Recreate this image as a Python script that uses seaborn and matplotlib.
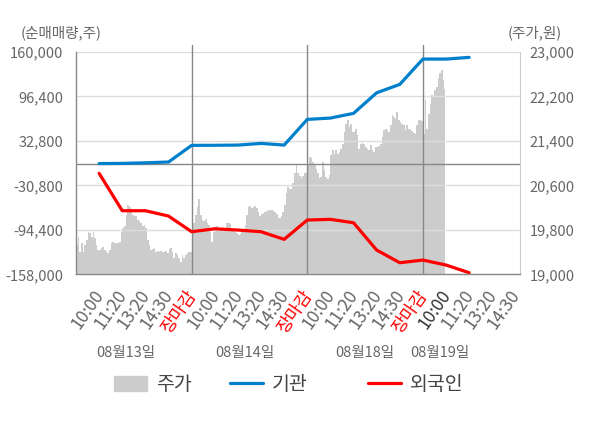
import numpy as np
import pandas as pd
import matplotlib
matplotlib.use("Agg")
import matplotlib.pyplot as plt
import seaborn as sns

# 날짜 / 시간 라벨
day_dates = ["08월13일", "08월14일", "08월18일", "08월19일"]
slot_labels = ["10:00", "11:20", "13:20", "14:30", "장마감"]

# 주가 (원) - 일자별 분 단위 샘플
price_d1 = [19530, 19680, 19410, 19560, 19410, 19530, 19620, 19770, 19740, 19680,
            19770, 19650, 19530, 19440, 19440, 19470, 19490, 19440, 19420, 19380,
            19440, 19560, 19580, 19570, 19570, 19560, 19590, 19770, 19840, 19860,
            20070, 20250, 20210, 20120, 20070, 20050, 20050, 19980, 19950, 19920,
            19860, 19890, 19830, 19620, 19530, 19440, 19450, 19470, 19410, 19420,
            19410, 19420, 19410, 19410, 19420, 19380, 19450, 19470, 19410, 19290,
            19380, 19350, 19290, 19230, 19350, 19290, 19350, 19390, 19410, 19410]
price_d2 = [19860, 19920, 20070, 20210, 20350, 20070, 19980, 19950, 19990, 19920,
            19890, 19770, 19590, 19760, 19840, 19870, 19840, 19840, 19840, 19810,
            19830, 19920, 19920, 19900, 19800, 19780, 19770, 19740, 19710, 19720,
            19770, 19810, 19890, 20070, 20210, 20230, 20190, 20210, 20230, 20190,
            20120, 20050, 20080, 20100, 20120, 20140, 20160, 20160, 20160, 20140,
            20120, 20080, 20010, 20020, 20050, 20120, 20250, 20460, 20570, 20530,
            20530, 20640, 20820, 20960, 20820, 20770, 20740, 20770, 20820, 20830]
price_d3 = [20960, 21110, 21100, 21020, 20990, 20900, 20820, 20730, 20750, 21020,
            20870, 20750, 20710, 20780, 21140, 21230, 21170, 21230, 21170, 21200,
            21260, 21350, 21560, 21710, 21770, 21650, 21710, 21560, 21560, 21620,
            21500, 21260, 21350, 21360, 21350, 21290, 21260, 21230, 21320, 21230,
            21200, 21290, 21290, 21310, 21350, 21470, 21590, 21620, 21590, 21560,
            21680, 21860, 21830, 21800, 21920, 21770, 21740, 21710, 21680, 21590,
            21680, 21620, 21610, 21580, 21540, 21530, 21680, 21770, 21770, 21760]
price_d4 = [21530, 22130, 21620, 21890, 22070, 22220, 22190, 22310, 22370, 22520,
            22610, 22670, 22490, 22340]

# 순매매량 (주) - 라벨 시점별 누적
inst_net = [300, 500, 1400, 2500, 26300, 26400, 26700, 29100, 26700, 63400,
            65300, 72000, 101400, 113400, 149600, 149600, 152000]
foreign_net = [-13700, -67100, -67100, -74700, -97100, -92900, -94700, -97100, -108000,
               -80400, -79400, -84300, -123300, -141400, -137600, -144700, -155700]

vol_ticks = [160000, 96400, 32800, -30800, -94400, -158000]
price_ticks = [19000, 19800, 20600, 21400, 22200, 23000]

SAMPLES_PER_DAY = 70
SLOTS_PER_DAY = 5
XMAX = 3.84
GRID_C = "#dddddd"
DARK_C = "#888888"
TEXT_C = "#666666"
BLUE = "#0080cc"
RED = "#ff0000"
AREA_C = "#cccccc"

sns.set_style("white")
plt.rcParams["font.family"] = ["Noto Sans CJK KR", "DejaVu Sans"]

# x 좌표 계산
price_x, price_y = [], []
for d, vals in enumerate([price_d1, price_d2, price_d3, price_d4]):
    price_x += [d + (i + 0.5) / SAMPLES_PER_DAY for i in range(len(vals))]
    price_y += vals
price_df = pd.DataFrame({"x": price_x, "price": price_y})

slot_step = 1 / SLOTS_PER_DAY
flow_df = pd.DataFrame({
    "x": [(i + 1) * slot_step for i in range(len(inst_net))],
    "기관": inst_net,
    "외국인": foreign_net,
})

fig = plt.figure(figsize=(6, 4.28), dpi=100)
ax = fig.add_axes([0.1267, 0.359, 0.74, 0.52])
ax_p = ax.twinx()
ax.set_zorder(ax_p.get_zorder() + 1)
ax.patch.set_visible(False)
ax_p.set_facecolor("#f4f4f4")

# 주가 영역
ax_p.fill_between(price_df["x"], price_ticks[0], price_df["price"], step="mid",
                  color=AREA_C, linewidth=0)
ax_p.set_ylim(price_ticks[0], price_ticks[-1])
ax_p.set_yticks(price_ticks)
ax_p.set_yticklabels([f"{v:,}" for v in price_ticks])
ax_p.tick_params(axis="y", length=0, pad=7, labelsize=10.5, labelcolor=TEXT_C)
for s in ["top", "left", "bottom"]:
    ax_p.spines[s].set_visible(False)
ax_p.spines["right"].set_color("#cccccc")

# 순매매량 라인
sns.lineplot(data=flow_df, x="x", y="기관", color=BLUE, linewidth=2.3, ax=ax)
sns.lineplot(data=flow_df, x="x", y="외국인", color=RED, linewidth=2.3, ax=ax)

ax.set_xlim(0, XMAX)
ax.set_ylim(vol_ticks[-1], vol_ticks[0])
ax.set_yticks(vol_ticks)
ax.set_yticklabels([f"{v:,}" for v in vol_ticks])
ax.tick_params(axis="y", length=0, pad=9, labelsize=10.5, labelcolor=TEXT_C)
ax.set_xticks([0, 1, 2, 3, XMAX])
ax.set_xticklabels([])
ax.tick_params(axis="x", length=4, color=DARK_C, width=1)
ax.set_xlabel("")
ax.set_ylabel("")
ax.grid(axis="y", color=GRID_C, linewidth=1)
ax.grid(axis="x", visible=False)
ax.axhline(0, color=DARK_C, linewidth=1, zorder=1.5)
for d in [1, 2, 3]:
    ax.axvline(d, ymin=0, ymax=1.03, color=DARK_C, linewidth=1, clip_on=False, zorder=1.5)
for s in ["top", "right"]:
    ax.spines[s].set_visible(False)
for s in ["left", "bottom"]:
    ax.spines[s].set_color(DARK_C)
    ax.spines[s].set_linewidth(1)

# 시간 라벨
xt = ax.get_xaxis_transform()
for d in range(len(day_dates)):
    for k, lab in enumerate(slot_labels):
        x = d + (k + 1) * slot_step
        if x > XMAX + 0.05:
            continue
        c = TEXT_C
        if lab == "장마감":
            c = RED
        elif d == len(day_dates) - 1 and k == 0:
            c = "#333333"
        ax.text(x + 0.01, -0.08, lab, transform=xt, rotation=55, rotation_mode="anchor",
                ha="right", va="center", fontsize=12.5, color=c)

date_pos = [0.43, 1.46, 2.5, 3.15]
for x, lab in zip(date_pos, day_dates):
    ax.text(x, -0.355, lab, transform=xt, ha="center", va="center", fontsize=10.5, color=TEXT_C)

fig.text(61 / 600, 1 - 33 / 428, "(순매매량,주)", ha="center", va="center", fontsize=10.5, color=TEXT_C)
fig.text(535 / 600, 1 - 33 / 428, "(주가,원)", ha="center", va="center", fontsize=10.5, color=TEXT_C)

# 범례 (항목별 위치)
legend_items = [
    (plt.Rectangle((0, 0), 1, 1, color=AREA_C), "주가", 114),
    (plt.Line2D([], [], color=BLUE, linewidth=2.3), "기관", 230),
    (plt.Line2D([], [], color=RED, linewidth=2.3), "외국인", 368),
]
for h, lab, px in legend_items:
    fig.legend([h], [lab], loc="center left", bbox_to_anchor=(px / 600, 1 - 385 / 428),
               frameon=False, fontsize=14, handlelength=1.7, handleheight=0.8,
               handletextpad=0.45, borderpad=0, borderaxespad=0, labelcolor="#444444")

fig.savefig("out.png", dpi=100)
